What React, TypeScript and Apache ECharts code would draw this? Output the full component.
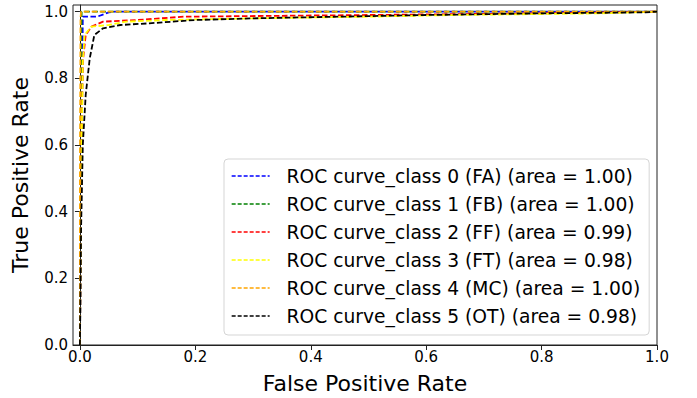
import React, { useEffect, useRef } from "react";
import * as echarts from "echarts";

const classNames = [
  "ROC curve_class 0 (FA) (area = 1.00)",
  "ROC curve_class 1 (FB) (area = 1.00)",
  "ROC curve_class 2 (FF) (area = 0.99)",
  "ROC curve_class 3 (FT) (area = 0.98)",
  "ROC curve_class 4 (MC) (area = 1.00)",
  "ROC curve_class 5 (OT) (area = 0.98)",
];
const colors = ["#0000ff", "#008000", "#ff0000", "#ffff00", "#ffa500", "#000000"];

const fpr0 = [0, 0.003, 0.005, 0.03, 0.05, 0.06, 1.0];
const tpr0 = [0, 0.6, 0.985, 0.985, 0.998, 1.0, 1.0];
const fpr1 = [0, 0.002, 0.003, 1.0];
const tpr1 = [0, 0.9, 1.0, 1.0];
const fpr2 = [0, 0.002, 0.005, 0.01, 0.02, 0.04, 0.1, 0.18, 0.5, 0.8, 1.0];
const tpr2 = [0, 0.5, 0.85, 0.93, 0.955, 0.97, 0.975, 0.985, 0.99, 0.995, 1.0];
const fpr3 = [0, 0.003, 0.005, 0.008, 0.02, 0.05, 0.08, 0.15, 0.3, 0.5, 0.65, 0.9, 1.0];
const tpr3 = [0, 0.6, 0.85, 0.93, 0.955, 0.96, 0.97, 0.975, 0.98, 0.985, 0.99, 0.995, 1.0];
const fpr4 = [0, 0.0, 0.001, 0.002, 1.0];
const tpr4 = [0, 0.5, 0.98, 1.0, 1.0];
const fpr5 = [0, 0.002, 0.005, 0.01, 0.017, 0.025, 0.04, 0.07, 0.12, 0.2, 0.3, 0.45, 0.6, 0.8, 0.98, 1.0];
const tpr5 = [0, 0.35, 0.6, 0.75, 0.86, 0.93, 0.95, 0.96, 0.965, 0.975, 0.98, 0.985, 0.99, 0.995, 0.998, 1.0];

const fprs = [fpr0, fpr1, fpr2, fpr3, fpr4, fpr5];
const tprs = [tpr0, tpr1, tpr2, tpr3, tpr4, tpr5];

const xTicks = [0, 0.2, 0.4, 0.6, 0.8, 1.0];
const yTicks = [0, 0.2, 0.4, 0.6, 0.8, 1.0];

const FONT = "DejaVu Sans";

export default function App() {
  const ref = useRef<HTMLDivElement>(null);
  useEffect(() => {
    if (!ref.current) return;
    const chart = echarts.init(ref.current, null, { renderer: "svg" });
    const series = classNames.map((name, i) => ({
      name,
      type: "line",
      data: fprs[i].map((x, j) => [x, tprs[i][j]]),
      showSymbol: false,
      symbol: "none",
      symbolSize: 0,
      lineStyle: { color: colors[i], width: 1.8, type: [5.5, 2.5] },
      itemStyle: { color: colors[i] },
      z: 2 + i,
    }));
    chart.setOption({
      animation: false,
      backgroundColor: "#ffffff",
      textStyle: { fontFamily: FONT },
      grid: {
        left: 73,
        right: 40,
        top: 5,
        bottom: 53,
        containLabel: false,
        outerBoundsMode: "none",
        show: true,
        borderColor: "#222",
        borderWidth: 1,
        backgroundColor: "transparent",
      },
      legend: {
        orient: "vertical",
        left: 224,
        top: 159,
        data: classNames,
        itemWidth: 38,
        itemHeight: 14,
        itemGap: 8,
        padding: [7, 9, 9, 7],
        backgroundColor: "#ffffff",
        borderColor: "#d5d5d5",
        borderWidth: 1,
        borderRadius: 4,
        itemStyle: { opacity: 0 },
        lineStyle: { width: 1.3, type: [4, 2] },
        formatter: (name: string) => "  " + name,
        textStyle: { fontFamily: FONT, fontSize: 18.7, lineHeight: 20, color: "#000" },
        selectedMode: false,
      },
      xAxis: {
        type: "value",
        min: -0.012,
        max: 1.0,
        name: "False Positive Rate",
        nameLocation: "middle",
        nameGap: 27,
        nameTextStyle: { fontFamily: FONT, fontSize: 22, color: "#000" },
        axisLine: { show: true, lineStyle: { color: "#222", width: 1 } },
        axisTick: { show: true, inside: false, length: 5, lineStyle: { color: "#222" }, customValues: xTicks },
        axisLabel: {
          fontFamily: FONT,
          fontSize: 15,
          color: "#000",
          margin: 4,
          customValues: xTicks,
          formatter: (v: number) => v.toFixed(1),
        },
        splitLine: { show: false },
      },
      yAxis: {
        type: "value",
        min: 0,
        max: 1.02,
        name: "True Positive Rate",
        nameLocation: "middle",
        nameGap: 42,
        nameRotate: 90,
        nameTextStyle: { fontFamily: FONT, fontSize: 22, color: "#000" },
        axisLine: { show: true, lineStyle: { color: "#222", width: 1 } },
        axisTick: { show: true, inside: false, length: 5, lineStyle: { color: "#222" }, customValues: yTicks },
        axisLabel: {
          fontFamily: FONT,
          fontSize: 15,
          color: "#000",
          margin: 5,
          customValues: yTicks,
          formatter: (v: number) => v.toFixed(1),
        },
        splitLine: { show: false },
      },
      series,
    });
    return () => chart.dispose();
  }, []);
  return <div ref={ref} style={{ width: 697, height: 398, position: "absolute", left: 0, top: 0 }} />;
}
